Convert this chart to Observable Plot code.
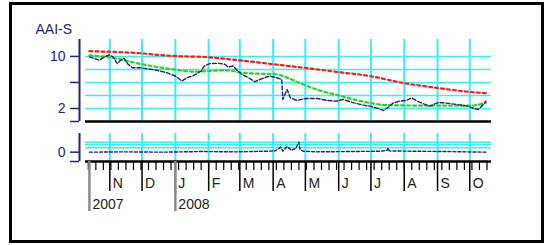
<!DOCTYPE html>
<html><head><meta charset="utf-8">
<script src="https://cdn.jsdelivr.net/npm/d3@7"></script>
<script src="https://cdn.jsdelivr.net/npm/@observablehq/plot@0.6"></script>
<style>
html,body{margin:0;padding:0;background:#fff;}
#wrap{position:relative;width:546px;height:245px;overflow:hidden;font-family:"Liberation Sans",Arial,sans-serif;}
#wrap svg{position:absolute;left:0;top:0;background:transparent !important;}
#border{position:absolute;left:9px;top:2px;width:535px;height:241px;border:3px solid #000;box-sizing:border-box;}
</style></head><body><div id="wrap"><div id="border"></div></div>
<script>
// ---- data ----
const seriesName = "AAI-S";
const priceDates = ["2007-10-13","2007-10-17","2007-10-22","2007-10-26","2007-10-31","2007-11-04","2007-11-08","2007-11-11","2007-11-14","2007-11-18","2007-11-22","2007-11-29","2007-12-05","2007-12-15","2007-12-24","2008-01-01","2008-01-07","2008-01-12","2008-01-17","2008-01-20","2008-01-25","2008-01-28","2008-02-02","2008-02-10","2008-02-16","2008-02-19","2008-02-24","2008-02-28","2008-03-03","2008-03-09","2008-03-15","2008-03-20","2008-03-26","2008-03-29","2008-04-04","2008-04-09","2008-04-10","2008-04-14","2008-04-17","2008-04-23","2008-05-02","2008-05-12","2008-05-21","2008-05-30","2008-06-05","2008-06-15","2008-06-24","2008-06-30","2008-07-06","2008-07-13","2008-07-17","2008-07-22","2008-07-28","2008-08-03","2008-08-08","2008-08-13","2008-08-19","2008-08-25","2008-09-01","2008-09-07","2008-09-19","2008-09-29","2008-10-05","2008-10-09","2008-10-14","2008-10-16"];
const priceValues = [9.92,9.72,9.41,9.82,10.23,9.92,8.89,9.41,9.72,8.79,8.27,8.27,8.12,7.86,7.5,6.99,6.22,6.73,6.99,7.25,7.76,8.53,8.89,8.94,8.79,8.38,8.53,7.76,7.25,6.73,6.11,6.48,6.84,6.99,6.73,6.48,3.39,4.93,3.64,3.24,3.54,3.54,3.24,3.13,3.39,2.87,2.51,2.36,2.09,1.69,2.2,2.87,3.13,3.24,3.64,3.13,2.71,2.36,2.87,2.87,2.61,2.36,2.0,1.84,2.71,3.13];

const maShortDates = ["2007-10-13","2007-11-02","2007-12-01","2007-12-30","2008-01-18","2008-01-31","2008-02-19","2008-03-02","2008-03-20","2008-04-05","2008-04-10","2008-04-29","2008-05-16","2008-05-31","2008-06-15","2008-06-30","2008-07-16","2008-08-17","2008-09-13","2008-10-02","2008-10-16"];
const maShortValues = [10.18,9.82,8.79,8.02,7.66,7.76,7.86,7.5,7.35,7.25,6.99,5.7,4.67,4.05,3.39,2.87,2.51,2.45,2.45,2.45,2.87];

const maLongDates = ["2007-10-13","2007-11-28","2007-12-27","2008-02-02","2008-03-01","2008-04-01","2008-04-29","2008-05-31","2008-06-30","2008-07-30","2008-08-31","2008-09-30","2008-10-16"];
const maLongValues = [10.8,10.5,10.1,9.85,9.4,8.8,8.27,7.6,6.99,5.95,5.18,4.56,4.35];

const lowerDates = ["2007-10-13","2007-11-15","2007-12-20","2008-01-25","2008-02-28","2008-03-25","2008-04-03","2008-04-08","2008-04-10","2008-04-14","2008-04-18","2008-04-22","2008-04-25","2008-04-26","2008-04-29","2008-05-10","2008-06-10","2008-07-10","2008-07-16","2008-07-17","2008-07-18","2008-08-10","2008-09-10","2008-10-16"];
const lowerValues = [0,0.1,0,0.2,0.1,0.3,0.4,1.6,0.3,1.8,0.6,1.2,3.2,0.8,0.3,0.1,0.2,0.3,0.6,1.3,0.4,0.3,0.2,0];

const xDomainStrings = ["2007-10-09T09:00Z","2008-10-21T05:00Z"];
const monthStartStrings = ["2007-11-01","2007-12-01","2008-01-01","2008-02-01","2008-03-01","2008-04-01","2008-05-01","2008-06-01","2008-07-01","2008-08-01","2008-09-01","2008-10-01"];
const monthLetters = ["J","F","M","A","M","J","J","A","S","O","N","D"];
const yearTickStrings = ["2007-10-13","2008-01-01"];
const yearLabels = ["2007","2008"];
const upperDomain = [0, 12.6];
const upperGrid = [2,4,6,8,10];
const upperTicks = [0,2,6,10];
const upperTickLabels = [2,10];
const lowerDomain = [-3, 6];
const lowerGrid = [1.4,2.4,3.2];
const lowerTicks = [-3,0];

// ---- build ----
const D = s => new Date(s.length === 10 ? s + "T00:00Z" : s);
const zip = (ds, vs) => ds.map((d,i) => ({date: D(d), value: vs[i]}));
const price = zip(priceDates, priceValues);
const maShort = zip(maShortDates, maShortValues);
const maLong = zip(maLongDates, maLongValues);
const lower = zip(lowerDates, lowerValues);
const xDomain = xDomainStrings.map(D);
const months = monthStartStrings.map(D);
const yearTicks = yearTickStrings.map(D);
const minorTicks = d3.utcFriday.range(xDomain[0], xDomain[1]);

const navy = "#23237f";
const cyan = "#3beef6";
const font = "'Liberation Sans', Arial, sans-serif";
const style = {background: "transparent", fontFamily: font, fontSize: "14px", overflow: "visible"};

const upper = Plot.plot({
  width: 546, height: 245,
  marginLeft: 85, marginRight: 55, marginTop: 39, marginBottom: 124,
  style,
  x: {type: "utc", domain: xDomain, axis: null},
  y: {domain: upperDomain, axis: null},
  marks: [
    Plot.ruleY(upperGrid, {stroke: cyan, strokeWidth: 1.5}),
    Plot.ruleX(months, {stroke: cyan, strokeWidth: 2}),
    Plot.line(maLong, {x: "date", y: "value", stroke: "#f02020", strokeWidth: 2.2, strokeDasharray: "3,3", curve: "monotone-x"}),
    Plot.line(maShort, {x: "date", y: "value", stroke: "#22d822", strokeWidth: 2.2, strokeDasharray: "3,3", curve: "monotone-x"}),
    Plot.line(price, {x: "date", y: "value", stroke: navy, strokeWidth: 1.4, strokeDasharray: "4,2"}),
    Plot.ruleY([upperDomain[0]], {stroke: "#000", strokeWidth: 2.5}),
    Plot.ruleX([xDomain[0]], {dx: -6, stroke: navy, strokeWidth: 2}),
    Plot.axisY(upperTicks, {anchor: "left", label: null, dx: -6, tickSize: 9, tickPadding: 5, stroke: navy, fill: navy, strokeWidth: 1.5, fontSize: 14,
      tickFormat: d => upperTickLabels.includes(d) ? String(d) : ""}),
    Plot.text([seriesName], {frameAnchor: "top-left", dx: -50, dy: -6, textAnchor: "start", lineAnchor: "bottom", fill: navy, fontSize: 14})
  ]
});

const bottom = Plot.plot({
  width: 546, height: 245,
  marginLeft: 85, marginRight: 55, marginTop: 133, marginBottom: 84,
  style,
  x: {type: "utc", domain: xDomain, axis: null},
  y: {domain: lowerDomain, axis: null},
  marks: [
    Plot.ruleY(lowerGrid, {stroke: cyan, strokeWidth: 1.5}),
    Plot.ruleX(months, {stroke: cyan, strokeWidth: 2}),
    Plot.line(lower, {x: "date", y: "value", stroke: navy, strokeWidth: 1.4, strokeDasharray: "3,2"}),
    Plot.ruleY([lowerDomain[0]], {stroke: "#000", strokeWidth: 2.5}),
    Plot.ruleX([xDomain[0]], {dx: -6, stroke: navy, strokeWidth: 2}),
    Plot.axisY(lowerTicks, {anchor: "left", label: null, dx: -6, tickSize: 9, tickPadding: 5, stroke: navy, fill: navy, strokeWidth: 1.5, fontSize: 14,
      tickFormat: d => d === 0 ? "0" : ""}),
    Plot.axisX(minorTicks, {anchor: "bottom", label: null, tickSize: 9, stroke: "#000", strokeWidth: 1.2, tickFormat: () => ""}),
    Plot.axisX(months, {anchor: "bottom", label: null, tickSize: 30, stroke: "#000", strokeWidth: 1.5, tickFormat: () => ""}),
    Plot.axisX(yearTicks, {anchor: "bottom", label: null, tickSize: 50, stroke: "#8a8a8a", strokeWidth: 2.5, tickFormat: () => ""}),
    Plot.text(months, {x: d => d, text: d => monthLetters[d.getUTCMonth()], frameAnchor: "bottom", dy: 17, dx: 3, lineAnchor: "top", textAnchor: "start", fill: "#222", fontSize: 14}),
    Plot.text(yearTicks, {x: d => d, text: (d, i) => yearLabels[i], frameAnchor: "bottom", dy: 38, dx: 3, lineAnchor: "top", textAnchor: "start", fill: "#222", fontSize: 14})
  ]
});

const wrap = document.getElementById("wrap");
wrap.appendChild(upper);
wrap.appendChild(bottom);
</script></body></html>
